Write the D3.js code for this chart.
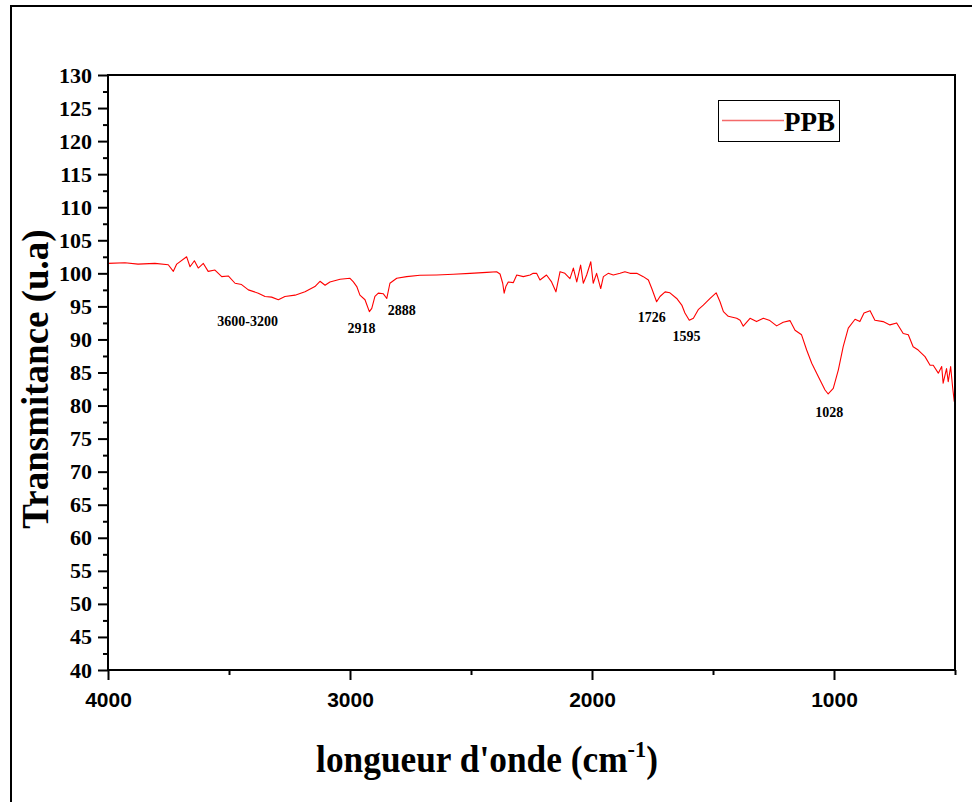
<!DOCTYPE html>
<html>
<head>
<meta charset="utf-8">
<script src="https://cdn.jsdelivr.net/npm/d3@7"></script>
<style>
  html, body { margin: 0; padding: 0; background: #fff; }
  svg { display: block; }
</style>
</head>
<body>
<svg id="chart" width="972" height="802"></svg>
<script>
// ---- data ----
const wavenumber = [4000,3930,3876,3806,3751,3730,3716,3675,3661,3643,3627,3606,3586,3558,3530,3503,3475,3448,3420,3379,3351,3324,3296,3269,3227,3186,3145,3124,3103,3083,3041,3000,2986,2972,2959,2938,2920,2910,2897,2883,2862,2848,2835,2807,2766,2711,2642,2573,2504,2435,2394,2380,2369,2363,2356,2346,2325,2311,2284,2256,2243,2229,2215,2188,2167,2149,2132,2112,2091,2077,2063,2047,2036,2022,2005,1995,1981,1964,1953,1933,1912,1884,1864,1843,1815,1788,1767,1753,1733,1719,1698,1678,1650,1629,1616,1598,1581,1561,1540,1512,1487,1471,1457,1437,1402,1388,1375,1347,1320,1292,1265,1237,1210,1182,1161,1134,1113,1092,1065,1037,1024,1003,982,962,941,913,893,876,851,831,797,769,741,714,693,673,652,624,603,590,569,555,549,535,528,518,510,503];
const transmittance = [101.5,101.6,101.4,101.5,101.3,100.3,101.4,102.5,101.0,101.9,100.8,101.5,100.3,100.5,99.5,99.6,98.5,98.3,97.5,97.0,96.5,96.4,96.0,96.5,96.7,97.2,98.0,98.8,98.2,98.7,99.1,99.25,98.7,98.0,96.7,96.0,94.2,94.7,96.5,97.0,96.9,96.2,98.5,99.25,99.5,99.7,99.75,99.85,100.0,100.15,100.25,99.9,98.5,97.0,98.0,98.7,98.6,99.75,99.5,99.75,100.0,100.0,99.0,99.75,98.7,97.2,100.25,100.0,99.2,100.8,98.7,101.25,98.5,99.75,101.75,98.5,100.0,97.7,99.5,100.0,99.75,100.0,100.25,100.0,100.0,99.5,99.0,97.7,95.7,96.5,97.2,97.05,96.2,95.2,94.0,92.9,93.2,94.5,95.2,96.2,97.05,95.7,94.2,93.5,93.2,92.9,92.0,93.2,92.7,93.2,92.85,92.05,92.6,92.85,91.4,90.7,88.4,86.4,84.4,82.35,81.75,82.6,85.4,88.9,91.7,93.05,92.7,94.0,94.35,92.9,92.7,92.2,92.5,90.9,90.7,88.9,88.4,87.4,86.1,86.1,84.9,85.9,83.4,85.6,83.6,85.9,82.85,80.6];

const seriesName = "PPB";
const xMajorTicks = [4000, 3000, 2000, 1000];
const xMinorTicks = [3500, 2500, 1500, 500];
const yMajorTicks = [40,45,50,55,60,65,70,75,80,85,90,95,100,105,110,115,120,125,130];
const yMinorTicks = [42.5,47.5,52.5,57.5,62.5,67.5,72.5,77.5,82.5,87.5,92.5,97.5,102.5,107.5,112.5,117.5,122.5,127.5];

const peakLabels = ["3600-3200", "2918", "2888", "1726", "1595", "1028"];
const peakLabelX = [3423, 2952, 2786, 1753, 1609, 1020];
const peakLabelY = [92.0, 91.0, 93.7, 92.6, 89.8, 78.2];

// ---- layout ----
const svg = d3.select("#chart");
const L = 108, R = 955, T = 75, B = 670;

const x = d3.scaleLinear().domain([4000, 500]).range([L, R]);
const y = d3.scaleLinear().domain([40, 130]).range([B, T]);

const serif = "'Liberation Serif', 'Times New Roman', serif";
const sans = "'Liberation Sans', Arial, sans-serif";

// outer frame
svg.append("rect").attr("x", 11).attr("y", 6).attr("width", 1000).attr("height", 1000)
  .attr("fill", "none").attr("stroke", "#000").attr("stroke-width", 2);

// x axis major + minor
const xAxis = svg.append("g").attr("transform", `translate(0,${B})`)
  .call(d3.axisBottom(x).tickValues(xMajorTicks).tickSize(10).tickPadding(12).tickFormat(d3.format("d")));
xAxis.select(".domain").remove();
xAxis.selectAll(".tick line").attr("stroke-width", 2);
xAxis.selectAll("text").attr("font-family", sans).attr("font-weight", "bold").attr("font-size", 21).attr("fill", "#000");

const xAxisMinor = svg.append("g").attr("transform", `translate(0,${B})`)
  .call(d3.axisBottom(x).tickValues(xMinorTicks).tickSize(5).tickFormat(""));
xAxisMinor.select(".domain").remove();
xAxisMinor.selectAll(".tick line").attr("stroke-width", 2);

// y axis
const yAxis = svg.append("g").attr("transform", `translate(${L},0)`)
  .call(d3.axisLeft(y).tickValues(yMajorTicks).tickSize(10).tickPadding(6).tickFormat(d3.format("d")));
yAxis.select(".domain").remove();
yAxis.selectAll(".tick line").attr("stroke-width", 2);
yAxis.selectAll("text").attr("font-family", serif).attr("font-weight", "bold").attr("font-size", 22).attr("fill", "#000");

const yAxisMinor = svg.append("g").attr("transform", `translate(${L},0)`)
  .call(d3.axisLeft(y).tickValues(yMinorTicks).tickSize(5).tickFormat(""));
yAxisMinor.select(".domain").remove();
yAxisMinor.selectAll(".tick line").attr("stroke-width", 2);

// clip
svg.append("clipPath").attr("id", "clip").append("rect")
  .attr("x", L).attr("y", T).attr("width", R - L).attr("height", B - T);

// spectrum line
const pts = wavenumber.map((w, i) => [w, transmittance[i]]);
svg.append("path").datum(pts)
  .attr("clip-path", "url(#clip)")
  .attr("fill", "none").attr("stroke", "#ff0000").attr("stroke-width", 1.1)
  .attr("stroke-linejoin", "round")
  .attr("d", d3.line().x(d => x(d[0])).y(d => y(d[1])));

// plot frame
svg.append("rect").attr("x", L).attr("y", T).attr("width", R - L).attr("height", B - T)
  .attr("fill", "none").attr("stroke", "#000").attr("stroke-width", 2);

// peak labels
svg.append("g").selectAll("text").data(peakLabels).join("text")
  .attr("x", (d, i) => x(peakLabelX[i]))
  .attr("y", (d, i) => y(peakLabelY[i]))
  .attr("text-anchor", "middle")
  .attr("font-family", serif).attr("font-weight", "bold").attr("font-size", 14)
  .text(d => d);

// legend
const lg = svg.append("g");
lg.append("rect").attr("x", 718.5).attr("y", 100.5).attr("width", 121).attr("height", 41)
  .attr("fill", "#fff").attr("stroke", "#000").attr("stroke-width", 1);
lg.append("line").attr("x1", 722).attr("x2", 784).attr("y1", 120.5).attr("y2", 120.5)
  .attr("stroke", "#f46a6a").attr("stroke-width", 1.5);
lg.append("text").attr("x", 784).attr("y", 131)
  .attr("font-family", serif).attr("font-weight", "bold").attr("font-size", 27)
  .text(seriesName);

// axis titles
const xt = svg.append("text").attr("transform", "translate(487,772) scale(0.93,1)")
  .attr("text-anchor", "middle")
  .attr("font-family", serif).attr("font-weight", "bold").attr("font-size", 38);
xt.append("tspan").text("longueur d'onde (cm");
xt.append("tspan").attr("dy", -15).attr("font-size", 24).text("-1");
xt.append("tspan").attr("dy", 15).text(")");

svg.append("text").attr("transform", "translate(48,379) rotate(-90)")
  .attr("text-anchor", "middle")
  .attr("font-family", serif).attr("font-weight", "bold").attr("font-size", 37)
  .text("Transmitance (u.a)");
</script>
</body>
</html>
